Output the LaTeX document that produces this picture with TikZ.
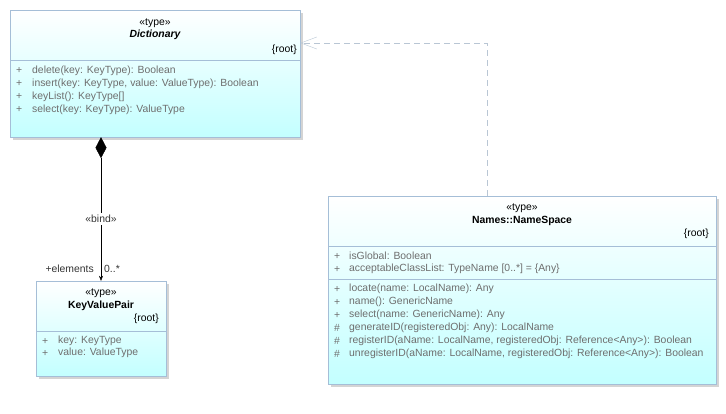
\documentclass[tikz,border=0pt]{standalone}
\usepackage{fontspec}
\setmainfont{Liberation Sans}
\usetikzlibrary{arrows.meta,shadows,positioning,calc}
\definecolor{boxline}{RGB}{165,190,215}
\definecolor{boxfill}{RGB}{195,255,255}
\definecolor{membertext}{RGB}{110,110,110}
\definecolor{realline}{RGB}{185,198,212}
\tikzset{
  umlbox/.style={draw=boxline, top color=white, bottom color=boxfill, inner sep=0,
    drop shadow={shadow xshift=3pt, shadow yshift=-3pt, fill=black!17, opacity=1}},
  sepline/.style={draw=boxline},
  header/.style={font=\fontsize{10.4}{12}\selectfont, inner sep=0},
  member/.style={font=\fontsize{10.4}{12}\selectfont, text=membertext, anchor=west, inner sep=0},
  rolelabel/.style={font=\fontsize{10.4}{12}\selectfont, text=black!80, inner sep=0},
}
\begin{document}
\begin{tikzpicture}[x=1pt,y=-1pt]
\useasboundingbox (0,0) rectangle (726,414);
% Boxes
\node[umlbox, minimum width=290pt, minimum height=127pt] (dict) at (155,73.5) {};
\node[umlbox, minimum width=130pt, minimum height=95pt] (kvp) at (101,328.5) {};
\node[umlbox, minimum width=388pt, minimum height=188pt] (ns) at (522,290) {};
% Compartments
\draw[sepline] (10,60) -- (300,60);
\draw[sepline] (36,331) -- (166,331);
\draw[sepline] (328,246) -- (716,246);
\draw[sepline] (328,279) -- (716,279);
% Dictionary
\node[header] (dictst) at (155,23) {«type»};
\node[header, font=\fontsize{10.4}{12}\selectfont\bfseries\itshape] (dictname) at (155,35) {Dictionary};
\node[header, anchor=east] (dictroot) at (297,50) {\{root\}};
\node[member] at (16,71) {+};
\node[member] at (32,71) {delete(key: KeyType): Boolean};
\node[member] at (16,84) {+};
\node[member] at (32,84) {insert(key: KeyType, value: ValueType): Boolean};
\node[member] at (16,97) {+};
\node[member] at (32,97) {keyList(): KeyType[]};
\node[member] at (16,110) {+};
\node[member] at (32,110) {select(key: KeyType): ValueType};
% KeyValuePair
\node[header] (kvpst) at (101,293) {«type»};
\node[header, font=\fontsize{10.4}{12}\selectfont\bfseries] (kvpname) at (101,306) {KeyValuePair};
\node[header, anchor=east] (kvproot) at (159,319) {\{root\}};
\node[member] at (42,341) {+};
\node[member] at (58,341) {key: KeyType};
\node[member] at (42,353) {+};
\node[member] at (58,353) {value: ValueType};
% Names::NameSpace
\node[header] (nsst) at (522,208) {«type»};
\node[header, font=\fontsize{10.4}{12}\selectfont\bfseries] (nsname) at (522,221) {Names::NameSpace};
\node[header, anchor=east] (nsroot) at (709,234) {\{root\}};
\node[member] at (334,256) {+};
\node[member] at (349,256) {isGlobal: Boolean};
\node[member] at (334,269) {+};
\node[member] at (349,269) {acceptableClassList: TypeName [0..*] = \{Any\}};
\node[member] at (334,289) {+};
\node[member] at (349,289) {locate(name: LocalName): Any};
\node[member] at (334,302) {+};
\node[member] at (349,302) {name(): GenericName};
\node[member] at (334,315) {+};
\node[member] at (349,315) {select(name: GenericName): Any};
\node[member] at (334,328) {\#};
\node[member] at (349,328) {generateID(registeredObj: Any): LocalName};
\node[member] at (334,341) {\#};
\node[member] at (349,341) {registerID(aName: LocalName, registeredObj: Reference<Any>): Boolean};
\node[member] at (334,354) {\#};
\node[member] at (349,354) {unregisterID(aName: LocalName, registeredObj: Reference<Any>): Boolean};
% Composition
\draw[{Diamond[length=21pt,width=11pt]}-{Stealth[length=5pt,width=4pt]}]
  (kvp.north |- dict.south) -- node[rolelabel, fill=white, inner sep=2pt, pos=0.57] (bind) {«bind»} (kvp.north);
\node[rolelabel, anchor=east] (role) at (94,269) {+elements};
\node[rolelabel, anchor=west] (mult) at (104,269) {0..*};
% Realization
\coordinate (bend) at (487,43);
\draw[realline, dashed, dash pattern=on 6pt off 4pt, -{Straight Barb[length=16pt,width=12pt]}]
  (ns.north -| bend) -- (bend) -- (dict.east |- bend);
\end{tikzpicture}
\end{document}
